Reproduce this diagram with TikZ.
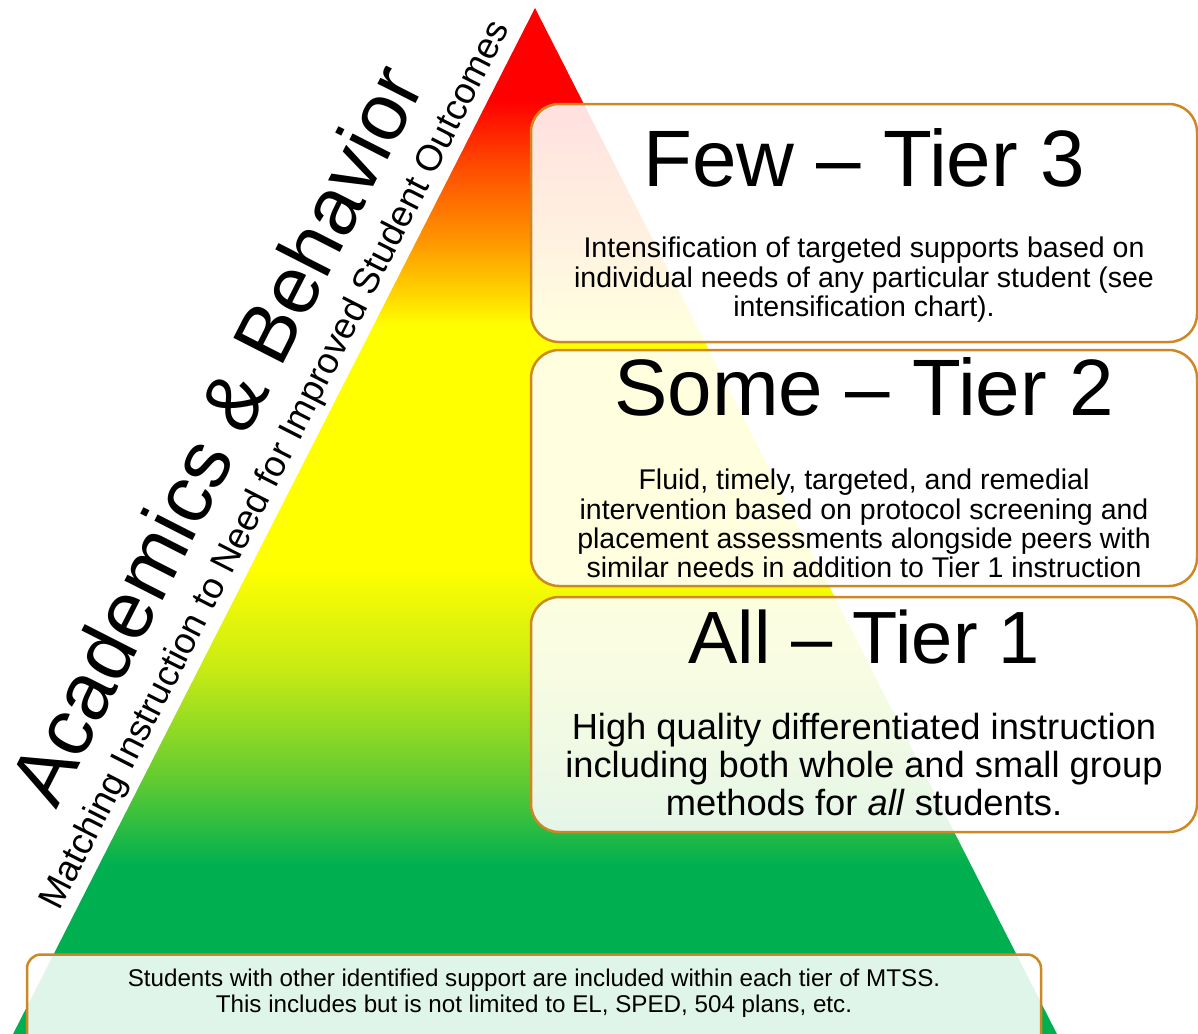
\documentclass[tikz,border=0pt]{standalone}
\usepackage{fontspec}
\setmainfont{Liberation Sans}
\usepackage{tikz}
\usetikzlibrary{%
  positioning
 ,calc
 ,shapes
}
\definecolor{tgreen}{RGB}{0,176,80}
\definecolor{tlgreen}{RGB}{95,202,50}
\definecolor{tygreen}{RGB}{200,235,20}
\definecolor{tyorange}{RGB}{255,210,0}
\definecolor{torange}{RGB}{255,150,0}
\definecolor{tredor}{RGB}{255,80,0}
\definecolor{tierline}{RGB}{205,135,35}
\pgfdeclareverticalshading{tiershade}{100bp}{%
  color(0bp)=(tgreen); color(33.5bp)=(tgreen); color(37.5bp)=(tlgreen);
  color(43bp)=(tygreen); color(47.8bp)=(yellow); color(59.6bp)=(yellow);
  color(61.3bp)=(tyorange); color(63.7bp)=(torange); color(67.1bp)=(tredor);
  color(70.5bp)=(red); color(100bp)=(red)}
\tikzstyle{tierbox}=[draw=tierline,line width=2.5pt,rounded corners=28pt,
                     fill=white,fill opacity=0.88,text opacity=1]

\begin{document}
\begin{tikzpicture}[x=1pt,y=-1pt]
    \useasboundingbox (0,0) rectangle (1198,1033);
    % the pyramid
    \coordinate (apex) at (535,8);
    \coordinate (bl) at (10,1040);
    \coordinate (br) at (1060,1040);
    \shade[shading=tiershade] (apex) -- (bl) -- (br) -- cycle;

    \tikzstyle{sidetitle}=[rotate=63,anchor=base,inner sep=0pt,
                           font=\fontsize{81}{81}\selectfont]
    \tikzstyle{sidesub}=[rotate=63,anchor=base,inner sep=0pt,
                         font=\fontsize{36.5}{36.5}\selectfont]
    \node[sidetitle](acad) at (241,447.5) {Academics \& Behavior};
    \node[sidesub](match) at (285,470)
      {Matching Instruction to Need for Improved Student Outcomes};

    % tier boxes
    \node[tierbox,minimum width=666pt,minimum height=238pt](few) at (864,223) {};
    \node[tierbox,minimum width=666pt,minimum height=236pt](some) at (864,468) {};
    \node[tierbox,minimum width=666pt,minimum height=235pt](all) at (864,714.5) {};
    \node[tierbox,minimum width=1014pt,minimum height=95pt,
          rounded corners=14pt](other) at (534,1002) {};
    %
    \tikzstyle{tiertitle}=[anchor=base,inner sep=0pt,
                           font=\fontsize{80}{80}\selectfont]
    \tikzstyle{tiertext}=[align=center,inner sep=0pt,
                          font=\fontsize{28.5}{29.3}\selectfont]
    \node[tiertitle](fewt) at ([yshift=-84pt]few.north) {Few -- Tier 3};
    \node[tiertext](fewd) at ([yshift=-177pt]few.north)
      {Intensification of targeted supports based on\\
       individual needs of any particular student (see\\
       intensification chart).};
    \node[tiertitle](somet) at ([yshift=-67pt]some.north) {Some -- Tier 2};
    \node[tiertext](somed) at ([yshift=-175pt]some.north)
      {Fluid, timely, targeted, and remedial\\
       intervention based on protocol screening and\\
       placement assessments alongside peers with\\
       similar needs in addition to Tier 1 instruction};
    \node[tiertitle,font=\fontsize{74}{74}\selectfont](allt)
      at ([yshift=-68pt]all.north) {All -- Tier 1};
    \node[tiertext,font=\fontsize{36.3}{38}\selectfont](alld)
      at ([yshift=-169pt]all.north)
      {High quality differentiated instruction\\
       including both whole and small group\\
       methods for \textit{all} students.};
    \node[tiertext,font=\fontsize{24.2}{26}\selectfont](otherd) at (534,993)
      {Students with other identified support are included within each tier of MTSS.\\
       This includes but is not limited to EL, SPED, 504 plans, etc.};
\end{tikzpicture}
\end{document}
